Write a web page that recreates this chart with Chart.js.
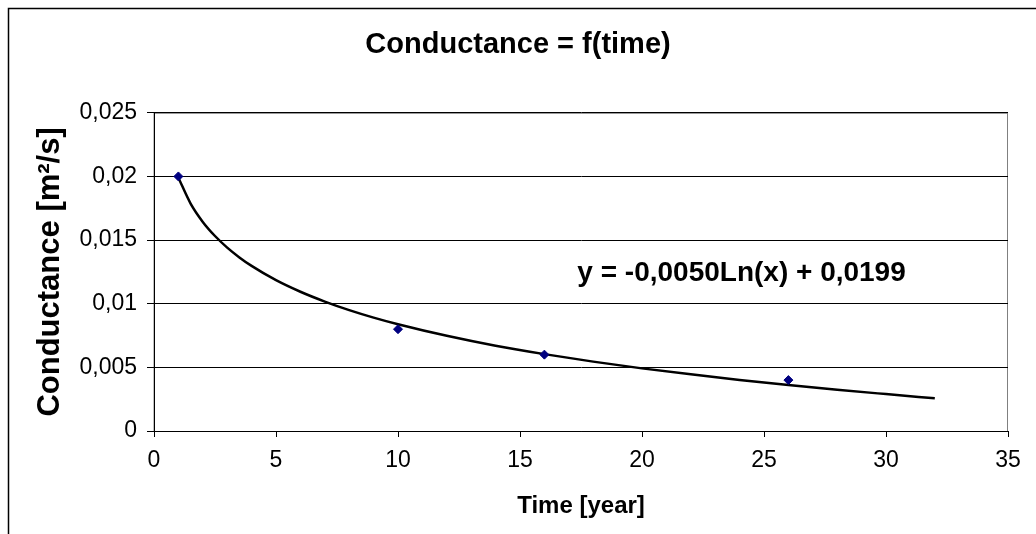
<!DOCTYPE html>
<html>
<head>
<meta charset="utf-8">
<script src="https://cdn.jsdelivr.net/npm/chart.js@4/dist/chart.umd.min.js"></script>
<style>
    html, body { margin: 0; padding: 0; background: #fff; }
    #wrap { width: 1036px; height: 534px; position: relative; }
</style>
</head>
<body>
<div id="wrap"><canvas id="conductanceChart"></canvas></div>
<script>
(function() {
    'use strict';

    // measured points
    const timeYears = [1, 10, 16, 26];
    const conductance = [0.02, 0.008, 0.006, 0.004];

    // logarithmic trendline
    const trendYears = [1, 1.5, 2, 2.5, 3, 3.5, 4, 5, 6, 7, 8, 9, 10, 12, 14, 16, 18, 20, 22, 24, 26, 28, 30, 32];
    const trendValues = [0.01990, 0.01787, 0.01643, 0.01532, 0.01441, 0.01364, 0.01297, 0.01185, 0.01094,
        0.01017, 0.00950, 0.00891, 0.00839, 0.00748, 0.00670, 0.00604, 0.00545, 0.00492, 0.00445, 0.00401,
        0.00361, 0.00324, 0.00290, 0.00257];

    const yTickLabels = ['0', '0,005', '0,01', '0,015', '0,02', '0,025'];
    const xTickLabels = ['0', '5', '10', '15', '20', '25', '30', '35'];

    const equationText = 'y = -0,0050Ln(x) + 0,0199';
    const FONT = '"Liberation Sans", Arial, sans-serif';

    const framePlugin = {
        id: 'frame',
        beforeDraw(chart) {
            const ctx = chart.ctx;
            const area = chart.chartArea;
            ctx.save();
            ctx.fillStyle = '#fff';
            ctx.fillRect(0, 0, chart.width, chart.height);
            ctx.strokeStyle = '#000';
            ctx.lineWidth = 1.5;
            ctx.strokeRect(8.5, 8.5, chart.width + 20, chart.height + 20);
            ctx.strokeStyle = '#808080';
            ctx.lineWidth = 1;
            ctx.strokeRect(area.left, area.top + 0.5, area.right - area.left - 0.5, area.bottom - area.top);
            ctx.restore();
        },
        afterDraw(chart) {
            const ctx = chart.ctx;
            const x = chart.scales.x.getPixelForValue(17.35);
            const y = chart.scales.y.getPixelForValue(0.0125);
            ctx.save();
            ctx.font = 'bold 28px ' + FONT;
            ctx.fillStyle = '#000';
            ctx.textBaseline = 'middle';
            ctx.textAlign = 'left';
            ctx.fillText(equationText, x, y + 1);
            ctx.restore();
        }
    };

    function initChart() {
        const canvas = document.getElementById('conductanceChart');
        if (typeof Chart === 'undefined' || !canvas) {
            return;
        }

        new Chart(canvas, {
            type: 'scatter',
            data: {
                datasets: [{
                    label: 'Conductance',
                    data: timeYears.map((t, i) => ({ x: t, y: conductance[i] })),
                    pointStyle: 'rectRot',
                    pointRadius: 4.5,
                    backgroundColor: '#000080',
                    borderColor: '#000080',
                    borderWidth: 1,
                    showLine: false,
                    order: 0
                }, {
                    label: 'Trend',
                    data: trendYears.map((t, i) => ({ x: t, y: trendValues[i] })),
                    showLine: true,
                    pointRadius: 0,
                    borderColor: '#000',
                    borderWidth: 2.5,
                    cubicInterpolationMode: 'monotone',
                    order: 1
                }]
            },
            options: {
                responsive: true,
                maintainAspectRatio: false,
                animation: false,
                layout: { padding: { left: 28, right: 28, top: 10, bottom: 9 } },
                plugins: {
                    legend: { display: false },
                    tooltip: { enabled: false },
                    title: {
                        display: true,
                        text: 'Conductance = f(time)',
                        color: '#000',
                        font: { family: FONT, size: 29, weight: 'bold' },
                        padding: { top: 18, bottom: 50 }
                    }
                },
                scales: {
                    x: {
                        type: 'linear',
                        min: 0,
                        max: 35,
                        afterFit(scale) { scale.height = 94; },
                        ticks: {
                            stepSize: 5,
                            color: '#000',
                            padding: 10,
                            maxRotation: 0,
                            font: { family: FONT, size: 23 },
                            callback: (v, i) => xTickLabels[i]
                        },
                        grid: { display: true, drawOnChartArea: false, color: '#000', tickLength: 6 },
                        border: { display: true, color: '#000', width: 1 },
                        title: {
                            display: true,
                            text: 'Time [year]',
                            color: '#000',
                            font: { family: FONT, size: 24, weight: 'bold' },
                            padding: { top: 4, bottom: 4 }
                        }
                    },
                    y: {
                        min: 0,
                        max: 0.025,
                        afterFit(scale) { scale.width = 126; },
                        ticks: {
                            stepSize: 0.005,
                            color: '#000',
                            padding: 10,
                            font: { family: FONT, size: 23 },
                            callback: (v, i) => yTickLabels[i]
                        },
                        grid: { color: '#000', lineWidth: 1, tickLength: 7 },
                        border: { display: true, color: '#000', width: 1 },
                        title: {
                            display: true,
                            text: 'Conductance [m²/s]',
                            color: '#000',
                            font: { family: FONT, size: 31, weight: 'bold' },
                            padding: { top: 4, bottom: 4 }
                        }
                    }
                }
            },
            plugins: [framePlugin]
        });
    }

    if (document.readyState === 'loading') {
        document.addEventListener('DOMContentLoaded', initChart);
    } else {
        initChart();
    }
})();
</script>
</body>
</html>
